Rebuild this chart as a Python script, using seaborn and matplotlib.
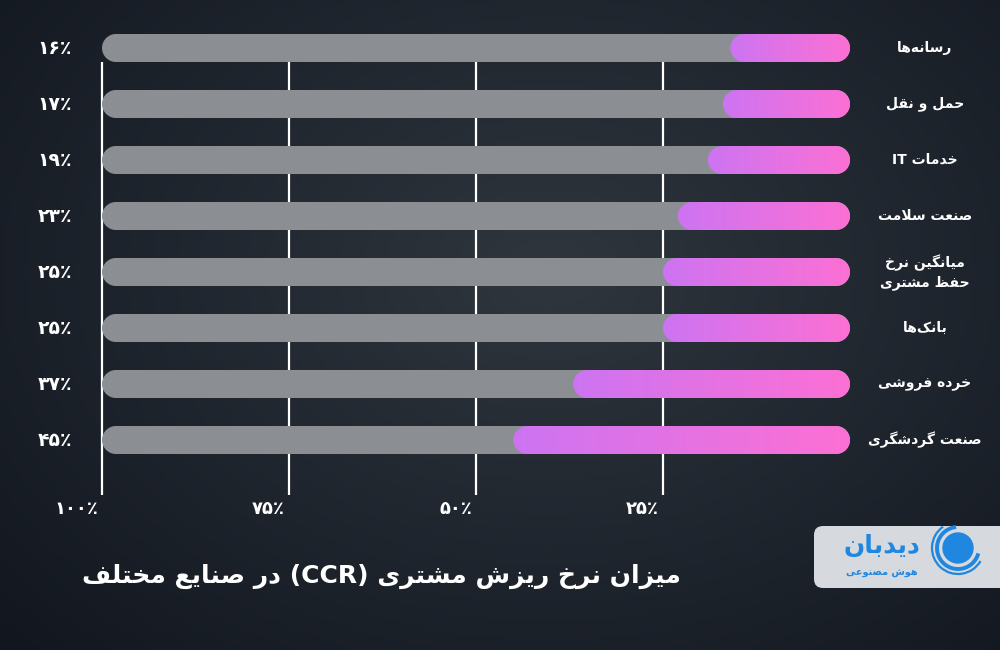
import re
import numpy as np
import pandas as pd
import matplotlib
matplotlib.use("Agg")
import matplotlib.pyplot as plt
import matplotlib.transforms as mtransforms
from matplotlib.patches import FancyBboxPatch, Circle, Arc, PathPatch
from matplotlib.path import Path
import seaborn as sns

# data
industries = ["رسانه‌ها", "حمل و نقل", "خدمات IT", "صنعت سلامت",
              "میانگین نرخ\nحفظ مشتری", "بانک‌ها", "خرده فروشی", "صنعت گردشگری"]
churn = [16, 17, 19, 23, 25, 25, 37, 45]
value_labels = ["۱۶٪", "۱۷٪", "۱۹٪", "۲۳٪", "۲۵٪", "۲۵٪", "۳۷٪", "۴۵٪"]
tick_values = [100, 75, 50, 25]
tick_labels = ["۱۰۰٪", "۷۵٪", "۵۰٪", "۲۵٪"]
title = "میزان نرخ ریزش مشتری (CCR) در صنایع مختلف"
logo_name = "دیدبان"
logo_sub = "هوش مصنوعی"

# --- minimal Persian shaping (matplotlib has no complex text layout) ---
FORMS = {
    'ا': ('\uFE8D', '\uFE8E', None, None),
    'آ': ('\uFE81', '\uFE82', None, None),
    'ب': ('\uFE8F', '\uFE90', '\uFE91', '\uFE92'),
    'پ': ('\uFB56', '\uFB57', '\uFB58', '\uFB59'),
    'ت': ('\uFE95', '\uFE96', '\uFE97', '\uFE98'),
    'ث': ('\uFE99', '\uFE9A', '\uFE9B', '\uFE9C'),
    'ج': ('\uFE9D', '\uFE9E', '\uFE9F', '\uFEA0'),
    'چ': ('\uFB7A', '\uFB7B', '\uFB7C', '\uFB7D'),
    'ح': ('\uFEA1', '\uFEA2', '\uFEA3', '\uFEA4'),
    'خ': ('\uFEA5', '\uFEA6', '\uFEA7', '\uFEA8'),
    'د': ('\uFEA9', '\uFEAA', None, None),
    'ذ': ('\uFEAB', '\uFEAC', None, None),
    'ر': ('\uFEAD', '\uFEAE', None, None),
    'ز': ('\uFEAF', '\uFEB0', None, None),
    'ژ': ('\uFB8A', '\uFB8B', None, None),
    'س': ('\uFEB1', '\uFEB2', '\uFEB3', '\uFEB4'),
    'ش': ('\uFEB5', '\uFEB6', '\uFEB7', '\uFEB8'),
    'ص': ('\uFEB9', '\uFEBA', '\uFEBB', '\uFEBC'),
    'ض': ('\uFEBD', '\uFEBE', '\uFEBF', '\uFEC0'),
    'ط': ('\uFEC1', '\uFEC2', '\uFEC3', '\uFEC4'),
    'ظ': ('\uFEC5', '\uFEC6', '\uFEC7', '\uFEC8'),
    'ع': ('\uFEC9', '\uFECA', '\uFECB', '\uFECC'),
    'غ': ('\uFECD', '\uFECE', '\uFECF', '\uFED0'),
    'ف': ('\uFED1', '\uFED2', '\uFED3', '\uFED4'),
    'ق': ('\uFED5', '\uFED6', '\uFED7', '\uFED8'),
    'ک': ('\uFB8E', '\uFB8F', '\uFB90', '\uFB91'),
    'گ': ('\uFB92', '\uFB93', '\uFB94', '\uFB95'),
    'ل': ('\uFEDD', '\uFEDE', '\uFEDF', '\uFEE0'),
    'م': ('\uFEE1', '\uFEE2', '\uFEE3', '\uFEE4'),
    'ن': ('\uFEE5', '\uFEE6', '\uFEE7', '\uFEE8'),
    'ه': ('\uFEE9', '\uFEEA', '\uFEEB', '\uFEEC'),
    'و': ('\uFEED', '\uFEEE', None, None),
    'ی': ('\uFBFC', '\uFBFD', '\uFBFE', '\uFBFF'),
}


def joins_next(c):
    return c in FORMS and FORMS[c][2] is not None


def shape(line):
    out = []
    i = 0
    n = len(line)
    while i < n:
        c = line[i]
        if c not in FORMS:
            out.append(c)
            i += 1
            continue
        link_prev = i > 0 and joins_next(line[i - 1])
        if c == 'ل' and i + 1 < n and line[i + 1] == 'ا':
            out.append('\uFEFC' if link_prev else '\uFEFB')
            i += 2
            continue
        link_next = joins_next(c) and i + 1 < n and line[i + 1] in FORMS
        iso, fin, ini, med = FORMS[c]
        if link_prev and link_next:
            out.append(med)
        elif link_prev:
            out.append(fin)
        elif link_next:
            out.append(ini)
        else:
            out.append(iso)
        i += 1
    return ''.join(out).replace('\u200c', '')


def fa(text):
    lines = []
    for line in text.split('\n'):
        vis = shape(line)[::-1]
        vis = re.sub(r'[A-Za-z0-9]+', lambda m: m.group(0)[::-1], vis)
        vis = vis.translate(str.maketrans('()', ')('))
        lines.append(vis)
    return '\n'.join(lines)


def stadium(x0, x1, y0, y1, rx):
    # pill shape in data units; rx is the cap radius along x
    yc = (y0 + y1) / 2
    ry = (y1 - y0) / 2
    t = np.linspace(-np.pi / 2, np.pi / 2, 40)
    right = np.column_stack([x1 - rx + rx * np.cos(t), yc + ry * np.sin(t)])
    left = np.column_stack([x0 + rx - rx * np.cos(t), yc - ry * np.sin(t)])
    verts = np.vstack([right, left, right[:1]])
    codes = [Path.MOVETO] + [Path.LINETO] * (len(verts) - 2) + [Path.CLOSEPOLY]
    return Path(verts, codes)


sns.set_theme(style="white")
plt.rcParams['font.family'] = ['DejaVu Sans']

W, H = 1000, 650
fig = plt.figure(figsize=(10, 6.5), dpi=100)
fig.patch.set_facecolor("#1b2029")

# dark slate background
bg = fig.add_axes([0, 0, 1, 1], zorder=-5)
yy, xx = np.mgrid[0:1:130j, 0:1:200j]
d = np.clip(np.sqrt(((xx - 0.55) / 0.75) ** 2 + ((yy - 0.42) / 0.85) ** 2), 0, 1)[..., None]
center = np.array([47, 54, 62]) / 255
edge = np.array([17, 22, 31]) / 255
bg.imshow(center * (1 - d) + edge * d, aspect="auto", extent=(0, 1, 1, 0))
bg.set_axis_off()

# main axes: 100% at x=102px, 0% at x=850px, bars 56px apart
ax = fig.add_axes([102 / W, 1 - 468 / H, 748 / W, 448 / H])
ax.set_facecolor("none")

gray = "#8b8f93"
labels_shaped = [fa(s) for s in industries]
df = pd.DataFrame({"industry": labels_shaped, "churn": churn, "full": [100] * len(churn)})
sns.barplot(data=df, x="full", y="industry", orient="h", color=gray, width=0.5,
            errorbar=None, ax=ax)
sns.barplot(data=df, x="churn", y="industry", orient="h", color="#e070e0", width=0.5,
            errorbar=None, ax=ax)

ax.set_xlim(100, 0)
ax.set_ylim(7.5, -0.5)

px_x = 748 / 100
r_px = 14
rx = r_px / px_x

grad = np.linspace(0, 1, 256)[None, :, None]
c_left = np.array([205, 116, 242]) / 255
c_right = np.array([252, 112, 212]) / 255
grad_img = c_left * (1 - grad) + c_right * grad

rects = list(ax.patches)
n = len(churn)
for k, rect in enumerate(rects):
    x0, y0 = rect.get_x(), rect.get_y()
    w, h = rect.get_width(), rect.get_height()
    rect.remove()
    pill = PathPatch(stadium(x0, x0 + w, y0, y0 + h, rx), linewidth=0, clip_on=False)
    if k < n:
        pill.set_facecolor(gray)
        pill.set_zorder(2)
        ax.add_patch(pill)
    else:
        pill.set_facecolor("none")
        ax.add_patch(pill)
        im = ax.imshow(grad_img, extent=(x0 + w, x0, y0 + h, y0), aspect="auto",
                       zorder=3, interpolation="bilinear")
        im.set_clip_path(pill)

ax.set_xlim(100, 0)
ax.set_ylim(7.5, -0.5)

# vertical guide lines behind the bars
ax.vlines(tick_values, 0.25, 7.98, color="white", lw=1.6, zorder=1, clip_on=False)

ax.set_xticks(tick_values, tick_labels)
ax.tick_params(axis="x", length=0, pad=23, labelsize=13, labelcolor="white")
offset = mtransforms.ScaledTranslation(-4 / 100, 0, fig.dpi_scale_trans)
for t in ax.get_xticklabels():
    t.set_fontweight("bold")
    t.set_ha("right")
    t.set_transform(t.get_transform() + offset)
ax.set_yticks([])
ax.set_xlabel("")
ax.set_ylabel("")
for s in ax.spines.values():
    s.set_visible(False)

# value labels on the left, industry names on the right
tr = mtransforms.blended_transform_factory(fig.transFigure, ax.transData)
for i, (lab, name) in enumerate(zip(value_labels, labels_shaped)):
    ax.text(72 / W, i, lab, transform=tr, ha="right", va="center",
            color="white", fontsize=13.5, fontweight="bold")
    ax.text(925 / W, i, name, transform=tr, ha="center", va="center",
            color="white", fontsize=10, fontweight="bold", linespacing=1.35)

# title
fig.text(381 / W, 1 - 576 / H, fa(title), ha="center", va="center",
         color="white", fontsize=18, fontweight="bold")

# logo badge
lg = fig.add_axes([812 / W, 1 - 590 / H, 188 / W, 66 / H])
lg.set_xlim(0, 188)
lg.set_ylim(0, 66)
lg.set_axis_off()
lg.add_patch(FancyBboxPatch((2, 2), 200, 62, boxstyle="round,pad=0,rounding_size=9",
                            facecolor="#d6d9dd", edgecolor="none", clip_on=False))
blue = "#1f87e0"
lg.add_patch(Circle((146, 42), 15, color=blue))
lg.add_patch(Arc((146, 42), 42, 42, theta1=95, theta2=345, color=blue, lw=2.8))
lg.add_patch(Arc((146, 42), 52, 52, theta1=125, theta2=330, color=blue, lw=1.6))
lg.text(70, 44, fa(logo_name), ha="center", va="center", color=blue,
        fontsize=18, fontweight="bold")
lg.text(70, 17, fa(logo_sub), ha="center", va="center", color=blue,
        fontsize=7, fontweight="bold")

fig.savefig("out.png", dpi=100, facecolor=fig.get_facecolor())
